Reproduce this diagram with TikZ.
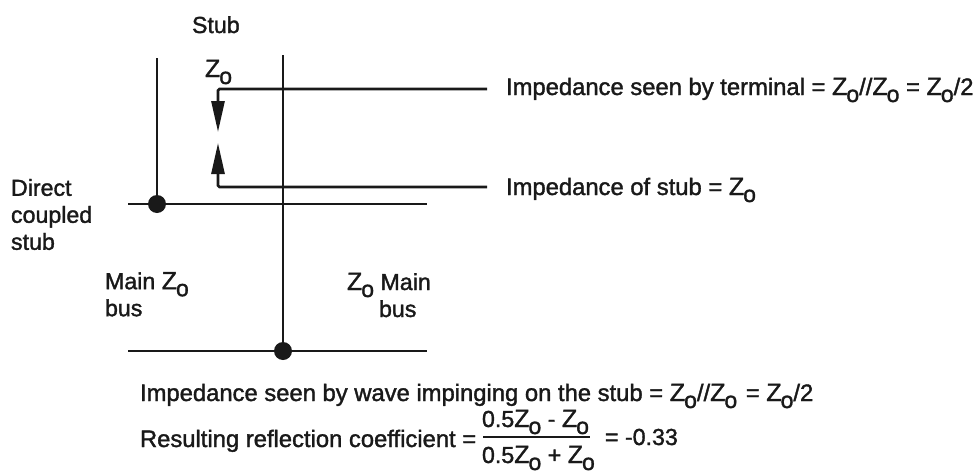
\documentclass[tikz,border=0pt]{standalone}
\usepackage{fontspec}
\setmainfont[RawFeature={embolden=1.5}]{Liberation Sans}
\usetikzlibrary{arrows.meta}
\tikzset{
  busline/.style={draw=black!90,line width=2.8pt},
  lbl/.style={inner sep=0pt,outer sep=0pt,anchor=base west,font=\fontsize{23.2}{27}\selectfont,text=black!90},
  longlbl/.style={lbl,font=\fontsize{23.8}{27}\selectfont},
  multi/.style={lbl,align=left,anchor=north west},
  dotn/.style={circle,fill=black!90,minimum size=18pt,inner sep=0pt},
  tipline/.style={busline,rounded corners=1.5pt,-{Triangle[length=31pt,width=13pt]}}
}
\newcommand{\Zo}{{\fontsize{25}{27}\selectfont Z\kern-1pt\raisebox{-7pt}{\fontsize{23}{27}\selectfont o}}}
\begin{document}
\begin{tikzpicture}[x=1pt,y=-1pt]
\useasboundingbox (0,0) rectangle (975,474);
% junctions
\node[dotn] (d1) at (157,204) {};
\node[dotn] (d2) at (283,351) {};
% free ends
\coordinate (s1) at (157,58);
\coordinate (s2) at (283,55);
\coordinate (h1a) at (128,204);
\coordinate (h1b) at (427,204);
\coordinate (h2a) at (128,351);
\coordinate (h2b) at (427,351);
\coordinate (upE) at (487,89);
\coordinate (upC) at (218,89);
\coordinate (upT) at (218,132);
\coordinate (loE) at (487,187);
\coordinate (loC) at (218,187);
\coordinate (loT) at (218,143);
% lines
\draw[busline] (s1) -- (d1.center);
\draw[busline] (s2) -- (d2.center);
\draw[busline] (h1a) -- (h1b);
\draw[busline] (h2a) -- (h2b);
\draw[tipline] (upE) -- (upC) -- (upT);
\draw[tipline] (loE) -- (loC) -- (loT);
% labels
\node[lbl] (stub) at (192,33) {Stub};
\node[lbl] (z0) at (205,77) {\Zo};
\node[longlbl] (t1) at (506,95) {Impedance seen by terminal = \Zo//\Zo{} = \Zo/2};
\node[longlbl] (t2) at (506,195) {Impedance of stub = \Zo};
\node[multi] (dc) at (11,179) {Direct\\coupled\\stub};
\node[multi] (ml) at (105,272) {Main \Zo\\bus};
\node[lbl] (zr) at (347,290) {\Zo{} Main};
\node[lbl] (br) at (379,317) {bus};
\node[longlbl] (t3) at (140,401) {Impedance seen by wave impinging on the stub = \Zo//\Zo{}\hspace{2pt} = \Zo/2};
\node[longlbl] (t4) at (140,447) {Resulting reflection coefficient =};
\node[lbl] (num) at (482,427) {0.5\Zo{} - \Zo};
\node[lbl] (den) at (482,463) {0.5\Zo{} + \Zo};
\coordinate (fa) at (483,437);
\coordinate (fb) at (590,437);
\draw[draw=black!90,line width=1.6pt] (fa) -- (fb);
\node[lbl] (res) at (605,445) {= -0.33};
\end{tikzpicture}
\end{document}
